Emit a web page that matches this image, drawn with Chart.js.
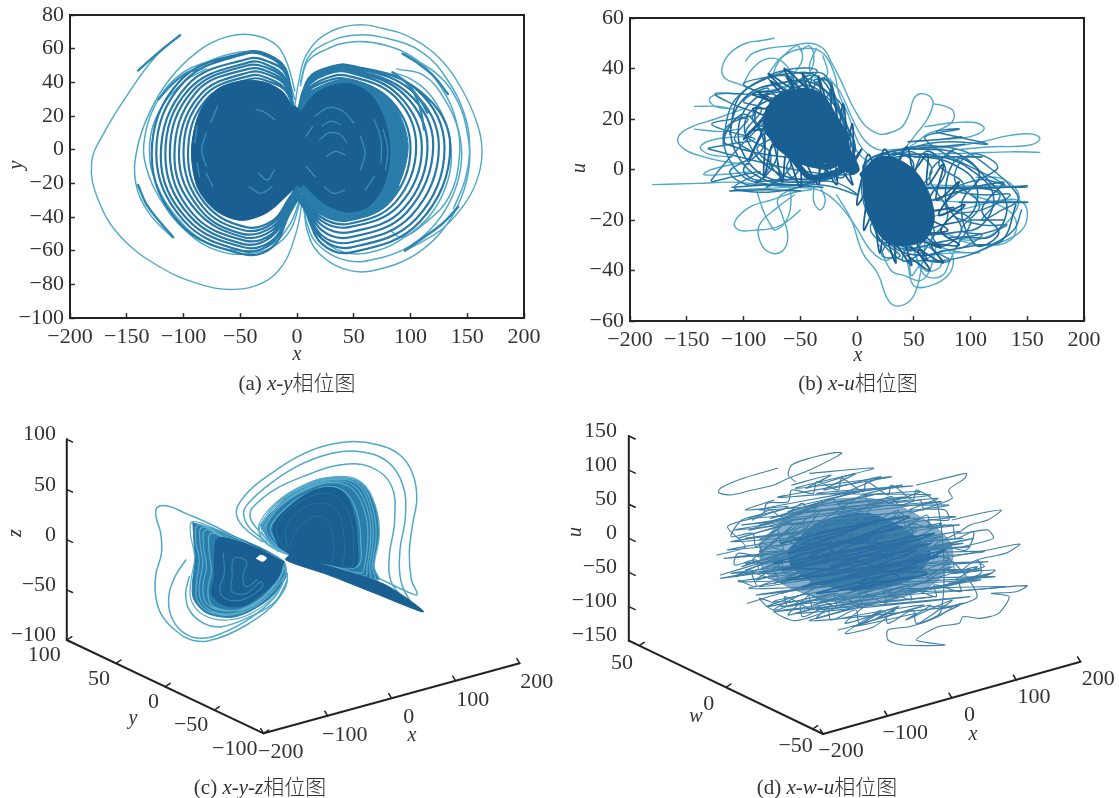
<!DOCTYPE html>
<html lang="zh">
<head>
<meta charset="UTF-8">
<title>相位图</title>
<script src="https://cdn.jsdelivr.net/npm/chart.js"></script>
<style>
  body { margin: 0; background: #fff; width: 1119px; height: 798px; position: relative; overflow: hidden; }
  canvas { position: absolute; filter: blur(0.4px); }
  .t { position: absolute; transform: translate(-50%, -50%); color: #333; white-space: nowrap;
       font-family: "Liberation Serif", "Noto Sans CJK SC", serif; }
  .cap { font-size: 21px; }
  .cap span { font-family: "Noto Sans CJK SC"; font-weight: 300; }
  .ax { font-size: 20px; font-style: italic; }
  .rot { transform: translate(-50%, -50%) rotate(-90deg); }
</style>
</head>
<body>
<canvas id="chartA" style="left:0;top:0"></canvas>
<canvas id="chartB" style="left:560px;top:0"></canvas>
<canvas id="chartC" style="left:0;top:410px"></canvas>
<canvas id="chartD" style="left:560px;top:410px"></canvas>

<div class="t ax" style="left:297px;top:353px">x</div>
<div class="t ax rot" style="left:15px;top:165px">y</div>
<div class="t ax" style="left:858px;top:354px">x</div>
<div class="t ax rot" style="left:578px;top:168px">u</div>
<div class="t ax rot" style="left:14px;top:533px">z</div>
<div class="t ax rot" style="left:574px;top:532px">u</div>
<div class="t ax" style="left:133px;top:717px">y</div>
<div class="t ax" style="left:412px;top:734px">x</div>
<div class="t ax" style="left:696px;top:715px">w</div>
<div class="t ax" style="left:973px;top:733px">x</div>
<div class="t cap" style="left:297px;top:381px">(a) <i>x-y</i><span>相位图</span></div>
<div class="t cap" style="left:858px;top:381px">(b) <i>x-u</i><span>相位图</span></div>
<div class="t cap" style="left:260px;top:785px">(c) <i>x-y-z</i><span>相位图</span></div>
<div class="t cap" style="left:827px;top:785px">(d) <i>x-w-u</i><span>相位图</span></div>

<script>
// tick labels
const xTicks = [-200, -150, -100, -50, 0, 50, 100, 150, 200];
const yTicksA = [-100, -80, -60, -40, -20, 0, 20, 40, 60, 80];
const uTicksB = [-60, -40, -20, 0, 20, 40, 60];
const xTicks3d = [-200, -100, 0, 100, 200];
const yTicksC = [100, 50, 0, -50, -100];
const zTicksC = [100, 50, 0, -50, -100];
const wTicksD = [50, 0, -50];
const uTicksD = [150, 100, 50, 0, -50, -100, -150];

// (a) x-y in axis units
const xyOuterLeft = [[-103,68],[-125,55],[-150,32],[-170,10],[-181,-8],[-175,-30],[-155,-52],[-120,-70],[-85,-80],[-56,-83],[-30,-79],[-12,-68],[-2,-52],[3,-38],[5,-25]];
const xyOuterRight = [[-2,26],[2,42],[8,56],[24,68],[50,74],[76,72],[102,66],[126,54],[146,35],[159,15],[163,0],[160,-15],[150,-30],[130,-46],[112,-54],[95,-60]];
const xyOuterRings = [
  [[3,40],[10,55],[25,63],[50,68],[80,66],[110,58],[132,42],[148,20],[152,0],[148,-18],[138,-35]],
  [[3,38],[9,52],[24,59],[48,64],[78,62],[106,53],[128,36],[141,15],[143,-5],[134,-28],[112,-44],[92,-52],[82,-48]],
  [[6,-30],[9,-48],[20,-62],[48,-72],[78,-70],[105,-62],[128,-48],[145,-28],[152,-8],[150,10],[142,28],[125,44],[95,57]],
  [[5,-30],[8,-42],[18,-56],[45,-66],[75,-64],[100,-57],[122,-44],[138,-26],[145,-6],[142,12],[130,30],[112,44],[88,48]],
  [[5,-28],[8,-38],[17,-50],[42,-61],[70,-60],[95,-52],[116,-40],[130,-24],[136,-6],[132,14],[118,32],[100,42],[84,46]],
  [[-2,35],[-8,50],[-18,62],[-38,68],[-62,67],[-88,58],[-112,42],[-130,22],[-141,0],[-142,-20],[-130,-38],[-110,-52]],
  [[3,-30],[-6,-48],[-22,-58],[-45,-62],[-70,-60],[-95,-50],[-118,-32],[-133,-10],[-134,8],[-122,30],[-102,45],[-80,52],[-50,58],[-24,56],[-8,42],[-2,30]],
  [[3,-28],[-6,-44],[-24,-57],[-50,-60],[-80,-55],[-106,-40],[-124,-20],[-130,0],[-122,22],[-100,40],[-80,48]]
];
const xyLeftMid = [[-4,28],[-10,48],[-24,56],[-44,58],[-103,41],[-128,-3],[-103,-44],[-48,-62],[-22,-58],[-8,-40],[3,-22],
  [-4,29],[-11,47],[-25,55],[-45,57],[-100,40],[-124,-2],[-100,-42],[-49,-60],[-23,-56],[-8,-39],[3,-23],
  [-4,27],[-10,45],[-24,52],[-43,54],[-97,38],[-120,-4],[-97,-41],[-47,-58],[-22,-54],[-8,-38],[3,-21],
  [-4,28],[-11,43],[-25,50],[-42,52],[-95,36],[-116,-3],[-95,-39],[-48,-56],[-23,-52],[-8,-36],[3,-22],
  [-4,26],[-10,41],[-24,48],[-44,50],[-92,35],[-112,-2],[-92,-38],[-46,-54],[-22,-50],[-8,-35],[3,-20],
  [-4,27],[-11,40],[-24,46],[-43,48],[-89,34],[-108,-4],[-89,-36],[-47,-52],[-22,-48],[-8,-34],[3,-21],
  [-4,25],[-10,38],[-23,44],[-42,46],[-86,32],[-104,-3],[-86,-35],[-48,-50],[-22,-46],[-8,-33],[3,-20],
  [-4,26],[-10,36],[-24,42],[-41,44],[-83,31],[-100,-2],[-83,-34],[-46,-48],[-22,-44],[-8,-31],[3,-19],
  [-4,24],[-10,35],[-23,40],[-41,42],[-81,29],[-96,-3],[-81,-32],[-45,-46],[-21,-42],[-8,-30],[3,-18]];
const xyRightMid = [[2,26],[10,42],[24,48],[46,50],[108,35],[135,2],[108,-43],[48,-61],[22,-56],[8,-37],[-3,-22],
  [2,25],[10,41],[25,48],[47,50],[105,36],[130,1],[105,-41],[48,-58],[22,-53],[8,-35],[-3,-21],
  [2,26],[10,40],[24,47],[46,49],[101,35],[125,2],[101,-39],[48,-55],[22,-51],[8,-33],[-3,-22],
  [2,24],[9,39],[24,46],[45,48],[97,34],[120,3],[97,-37],[47,-52],[22,-48],[8,-31],[-3,-20],
  [2,25],[10,38],[24,45],[46,47],[94,33],[115,2],[94,-35],[47,-49],[22,-45],[8,-30],[-3,-21],
  [2,24],[9,37],[23,44],[45,46],[90,32],[110,1],[90,-33],[46,-46],[21,-42],[8,-28],[-3,-19],
  [2,25],[10,36],[24,42],[44,44],[87,31],[105,2],[87,-31],[46,-44],[21,-40],[8,-27],[-3,-20],
  [2,23],[9,34],[23,40],[44,42],[83,29],[100,1],[83,-30],[45,-42],[21,-38],[8,-26],[-3,-18],
  [2,24],[10,33],[23,38],[43,40],[80,28],[95,2],[80,-28],[44,-40],[20,-36],[7,-24],[-3,-19],
  [2,22],[9,31],[22,36],[43,38],[77,26],[90,0],[77,-27],[44,-38],[20,-34],[7,-22],[-3,-17]];
const xyLeftBlob = [[-3,24],[-12,34],[-28,40],[-48,41],[-70,36],[-86,22],[-93,0],[-88,-22],[-72,-36],[-50,-42],[-28,-38],[-10,-28],[2,-18],[-2,2]];
const xyRightBlob = [[3,22],[14,32],[30,38],[48,39],[66,32],[78,16],[82,-2],[76,-22],[62,-34],[44,-37],[24,-32],[8,-22],[-2,-14],[2,4]];
const xyRightHaze = [[3,24],[16,36],[46,42],[82,30],[98,2],[82,-30],[46,-42],[20,-38],[-2,-16]];
const xyBridge = [[-10,14],[-2,26],[8,14],[10,-8],[4,-22],[-8,-14]];
const xyFlecks = [
  [[22,14],[30,17],[38,15]], [[20,6],[28,10],[38,9],[44,4]], [[26,-4],[34,-1],[42,-3]], [[24,-22],[32,-26],[42,-24]],
  [[16,20],[28,25],[40,23],[50,16]], [[56,8],[60,-2],[56,-12]], [[68,18],[74,6],[74,-8]], [[60,-24],[68,-16]],
  [[-36,24],[-28,22],[-20,18]], [[-34,-14],[-26,-18],[-20,-12]], [[-42,-22],[-32,-26],[-22,-22]],
  [[-80,10],[-84,0],[-80,-10]], [[-70,26],[-76,16]], [[-74,-22],[-80,-14]], [[8,8],[14,14]], [[8,-10],[16,-16]],
  [[76,12],[80,0],[78,-12]], [[-88,14],[-90,4]], [[-88,-8],[-86,-16]]
];
const xyStreaks = [
  [[93,57],[105,52],[120,44],[133,33]],
  [[84,46],[96,40],[108,30],[115,22]],
  [[95,-60],[112,-52],[128,-44],[142,-34]],
  [[-109,-52],[-122,-42],[-133,-32],[-140,-21]],
  [[-103,68],[-118,60],[-130,53],[-140,47]],
  [[-122,30],[-110,39],[-96,46],[-84,48]],
  [[70,-36],[82,-30],[90,-22]],
  [[100,38],[108,26],[112,12]]
];

// (b) x-u
const xuLoops = [
  [[-73,52],[-85,51],[-98,50],[-112,46],[-119,40],[-116,36],[-105,34],[-86,31],[-62,33],[-44,36],[-30,32],[-18,24],[-8,14],[2,6],[14,2]],
  [[-98,43],[-92,46],[-78,48],[-58,49],[-42,50],[-30,48],[-22,42],[-14,35],[-6,27],[0,22],[8,17],[20,14],[32,15],[40,17],[46,22],[50,28],[56,30],[64,29],[67,26],[62,20],[52,14],[42,8],[36,4]],
  [[68,26],[78,25],[85,23],[84,19],[74,16],[62,14],[50,10],[34,6],[18,3]],
  [[-75,36],[-70,42],[-60,47],[-52,49],[-48,44],[-55,38],[-60,34],[-68,30]],
  [[-50,47],[-42,49],[-38,44],[-42,38],[-50,35],[-56,33]],
  [[-78,38],[-65,45],[-45,48],[-30,46],[-20,38],[-16,30],[-8,22],[2,10],[14,4]],
  [[-40,-8],[-55,-9],[-75,-12],[-95,-15],[-108,-21],[-104,-24],[-90,-24],[-72,-23],[-60,-20],[-50,-16]],
  [[-55,-10],[-70,-15],[-86,-22],[-85,-29],[-76,-33],[-65,-32],[-61,-26],[-66,-18],[-70,-12],[-60,-8]],
  [[-88,-9],[-82,-17],[-76,-22],[-72,-24],[-62,-20],[-58,-12],[-60,-6]],
  [[-38,-7],[-38,-13],[-32,-16],[-28,-12],[-32,-7]],
  [[-180,-6],[-140,-5.5],[-110,-5],[-85,-6],[-60,-7],[-35,-8],[-18,-13],[-2,-22],[12,-32],[25,-36],[35,-33]],
  [[-18,-10],[-5,-20],[5,-33],[18,-41],[28,-52],[38,-54],[50,-50],[57,-38],[60,-25],[55,-15]],
  [[40,-30],[45,-38],[50,-46],[65,-46],[80,-42],[85,-36],[80,-32],[70,-33],[55,-38],[48,-42],[46,-34]],
  [[50,-32],[60,-42],[75,-42],[82,-36],[88,-30]],
  [[30,-20],[70,-30],[100,-33],[120,-30],[143,-25],[150,-19],[146,-13],[130,-12],[100,-15],[72,-18],[60,-20]],
  [[60,-12],[100,-13],[130,-12.5],[151,-13]],
  [[55,-6],[100,-6.5],[125,-6.5],[150,-7]],
  [[60,-34],[85,-33],[108,-33]],
  [[50,8],[84,9],[110,11],[135,13.5],[155,14],[161,12],[150,9.5],[120,9],[92,8]],
  [[55,6],[100,6.5],[135,7],[161,6.8]],
  [[60,17],[85,18.5],[105,18.5],[112,16],[100,13],[80,12]],
  [[-143,25],[-122,25],[-110,24]],
  [[-143,16],[-120,15],[-105,16]],
  [[-100,24],[-125,20],[-150,16],[-158,12],[-152,8],[-135,5],[-115,3],[-95,2]],
  [[-100,30],[-120,30],[-130,28],[-125,25],[-110,24]],
  [[-95,-1],[-120,-2],[-135,-2],[-128,0],[-100,3]],
  [[-108,-8],[-80,-7.5],[-60,-7]],
  [[-100,13],[-125,12],[-138,9],[-130,6],[-110,5]],
  [[-100,34],[-92,40],[-78,44],[-64,42],[-58,36],[-66,34],[-80,33]],
  [[-30,45],[-26,38],[-34,36],[-42,40],[-36,48]],
  [[-24,36],[-14,30],[-4,20],[6,12],[18,8],[36,8]],
  [[40,-22],[48,-30],[60,-40],[74,-38],[68,-32],[54,-30]],
  [[20,-30],[30,-40],[42,-42],[56,-44],[64,-40],[70,-30]],
  [[100,-10],[125,-14],[140,-20],[135,-28],[110,-30],[90,-28]],
  [[75,-25],[100,-28],[125,-24],[143,-12],[130,-4],[105,-3]]
];
const xuFlats = [
  [[-110,-7],[-70,-6],[-30,-7]], [[-112,-8.5],[-80,-8],[-50,-8.5]], [[-90,-5],[-60,-4],[-30,-4]],
  [[40,8],[70,9],[95,10]], [[45,11],[75,12],[92,13]], [[50,5],[80,5],[110,5]],
  [[60,-7],[100,-7],[148,-7]], [[60,-7.5],[110,-7.5],[150,-6.5]], [[90,-13],[150,-13]], [[100,-20],[130,-20]]
];
const xuLeftMid = [[-112,14],[-105,28],[-85,35],[-60,38],[-35,37],[-18,26],[-6,12],[-12,2],[-30,-4],[-60,-6],[-90,-2],[-108,8],[-110,20],[-95,30],[-70,34],[-45,35],[-25,30],[-10,16],[-4,4],[-20,-3],[-50,-5],[-80,-3],[-100,6],[-104,18],[-90,28],[-65,31],[-40,33],[-22,24],[-8,10],[-18,0],[-45,-4],[-75,0],[-95,10],[-98,20],[-80,27],[-55,30],[-32,30],[-15,22],[-5,6],
  [-115,10],[-100,22],[-82,10],[-100,0],[-85,-4],[-70,8],[-90,20],[-75,30],[-60,18],[-78,5],[-60,-4],[-45,10],[-65,25],[-50,35],[-38,20],[-55,5],[-35,-5],[-25,10],[-42,28],[-28,36],[-18,20],[-32,3],[-12,-3],[-8,12],[-20,28]];
const xuLeftMid2 = [[-118,10],[-112,24],[-100,31],[-82,36],[-66,39],[-48,38],[-30,38],[-20,30],[-12,20],[-2,10],[-8,2],[-26,-2],[-48,-6],[-72,-6],[-96,-4],[-110,2],[-118,12],[-112,18],[-96,20],[-108,12],[-92,6],[-112,-1],[-90,-6],[-76,6],[-98,14],[-84,24],[-100,27],[-78,32],[-92,20],[-72,14],[-88,8],[-66,-2],[-80,-7],[-58,2],[-74,18],[-60,30],[-78,36],[-56,36],[-66,24],[-48,12],[-62,0],[-40,-6],[-32,6],[-50,20],[-40,37],[-56,33],[-34,30],[-44,14],[-26,2],[-18,-4],[-14,12],[-30,24],[-22,34],[-38,35],[-12,24],[-24,12],[-6,-2],
  [-130,8],[-112,10],[-90,12],[-112,15],[-128,18],[-110,20],[-90,22],[-110,26],[-125,30],[-105,30],[-85,30],[-100,34],[-75,37],[-55,40],[-35,39],[-50,33],
  [-128,-4],[-110,-3],[-85,-1],[-108,-7],[-85,-9],[-60,-8],[-40,-6],[-20,-7],[0,-10],[-20,-5],[-50,-5]];
const xuLeftFringe = [[-95,15],[-70,18],[-92,24],[-66,24],[-86,30],[-60,26],[-76,35],[-52,28],[-62,37],[-42,29],[-48,38],[-32,28],[-34,37],[-24,24],[-22,33],[-16,18],[-12,26],[-8,12],[-4,18],[-2,5],[4,8],[-6,-1],[-4,-6],[-18,2],[-18,-6],[-32,3],[-34,-6],[-48,4],[-50,-7],[-62,6],[-66,-5],[-74,10],[-82,-3],[-82,14],[-95,4],[-80,20],[-100,12],[-76,26],[-92,30],[-68,32],[-78,38],[-56,32],[-64,40],[-44,32]];
const xuRightMid = [[140,-14],[128,-28],[105,-30],[80,-32],[55,-34],[30,-30],[10,-16],[8,2],[30,7],[60,8],[90,6],[115,-4],[132,-14],[120,-26],[95,-27],[70,-29],[45,-31],[22,-24],[6,-10],[15,4],[45,6],[75,5],[100,0],[120,-10],[110,-22],[85,-25],[60,-26],[35,-28],[15,-18],[8,-4],[28,4],[58,5],[85,2],[105,-6],[100,-18],[75,-22],[50,-24],[25,-20],
  [128,-5],[110,-16],[125,-25],[105,-30],[92,-14],[108,-2],[88,4],[78,-12],[92,-24],[72,-30],[62,-14],[78,0],[60,7],[50,-8],[62,-24],[45,-32],[35,-16],[50,2],[30,6],[25,-10],[38,-26],[20,-28],[12,-10]];
const xuRightMid2 = [[145,-16],[138,-24],[118,-30],[98,-34],[76,-36],[58,-36],[40,-36],[24,-30],[14,-22],[4,-8],[12,2],[30,5],[52,9],[76,9],[96,7],[116,1],[134,-6],[142,-12],[128,-16],[110,-20],[126,-10],[104,-6],[124,1],[100,6],[86,-4],[108,-14],[92,-24],[110,-26],[88,-31],[100,-20],[78,-14],[94,-6],[72,2],[86,8],[64,-2],[80,-18],[64,-30],[82,-36],[58,-35],[68,-24],[50,-12],[66,0],[44,7],[36,-4],[52,-20],[40,-36],[58,-32],[34,-30],[44,-14],[26,-2],[18,4],[14,-12],[30,-24],[22,-34],[38,-34],[12,-24],[24,-12],[6,2],
  [60,10],[85,11],[115,10],[88,13],[70,15],[90,16],[60,12],
  [130,-6],[110,-4],[85,-8],[110,-10],[135,-10],[110,-16],[85,-18],[110,-22],[132,-22],[105,-26],[80,-27]];
const xuRightFringe = [[85,-15],[60,-18],[80,-24],[60,-26],[74,-31],[52,-28],[62,-36],[44,-30],[48,-38],[34,-30],[34,-37],[24,-26],[20,-33],[14,-18],[6,-24],[8,-10],[0,-14],[4,-4],[10,6],[18,-2],[24,8],[34,2],[44,9],[50,0],[62,6],[62,-6],[76,2],[70,-12],[90,-5],[72,-18],[95,-14],[74,-24],[90,-30],[66,-30],[76,-37],[54,-32],[64,-40],[44,-34]];
const xuLeftCore = [[-78,24],[-60,30],[-40,28],[-25,22],[-10,12],[-20,2],[-40,2],[-60,6],[-75,14],[-62,24],[-42,24],[-28,16],[-38,8],[-55,10],[-65,18],[-50,20],[-34,13],[-20,6],[-8,2],[-25,-2],[-45,-2],[-70,20],[-50,28],[-35,26],[-20,20],[-12,12],[-25,8],[-45,6],[-65,10],[-78,18]];
const xuRightCore = [[5,-2],[20,4],[40,2],[55,-6],[55,-18],[45,-26],[30,-28],[15,-20],[10,-10],[25,-6],[42,-8],[48,-16],[38,-22],[24,-18],[18,-12],[30,-12],[45,-4],[58,-12],[52,-24],[36,-27]];
const xuLeftBlob = [[-82,22],[-72,29],[-52,32],[-35,31],[-24,26],[-14,16],[-6,8],[2,0],[-4,-2],[-20,2],[-40,3],[-58,6],[-72,10],[-82,16]];
const xuRightBlob = [[6,-2],[22,4],[40,3],[54,-2],[64,-10],[68,-20],[60,-28],[45,-30],[32,-30],[20,-26],[12,-18],[6,-10]];

// (c) x-y-z, traced in the flat view of the box
const cOuter = [
  [[790,455],[700,405],[600,348],[520,310],[470,288],[440,292],[437,320],[450,370],[452,430],[437,490],[435,550],[450,610],[490,660],[545,692],[610,685],[690,645],[760,590],[800,530],[805,490]],
  [[800,500],[770,560],[700,625],[620,670],[560,685],[510,665],[478,615],[473,555],[490,500],[520,450]],
  [[805,510],[770,575],[700,620],[620,650],[570,640],[530,600],[520,550],[530,500]],
  [[735,395],[690,360],[665,325],[665,290],[700,240],[760,190],[830,142],[900,110],[980,95],[1060,105],[1120,135],[1155,190],[1167,265],[1155,345],[1146,430],[1152,510],[1168,553],[1140,545],[1060,505],[950,460],[830,440]],
  [[745,395],[700,355],[683,320],[688,290],[740,235],[830,170],[930,130],[1010,125],[1085,155],[1128,225],[1135,320],[1120,420],[1122,510],[1150,575],[1185,605],[1100,565],[980,505],[860,455]],
  [[750,390],[715,350],[700,320],[708,292],[770,238],[860,195],[950,165],[1035,170],[1095,225],[1105,330],[1090,440],[1095,515],[1130,570],[1060,530],[950,480],[840,448]]
];
const cRightMid = [[780,425],[735,385],[725,345],[770,280],[850,225],[940,200],[1010,215],[1050,285],[1062,375],[1048,470],[1060,510],[960,480],[830,440],
  [778,422],[730,383],[730,345],[775,280],[855,226],[938,204],[1005,218],[1042,288],[1053,378],[1042,470],[1048,508],[945,475],[830,440],
  [780,420],[740,380],[735,345],[780,280],[860,228],[935,208],[1000,222],[1035,290],[1045,380],[1035,470],[1035,505],[930,470],[830,440],
  [785,420],[745,378],[742,342],[788,280],[862,232],[932,213],[992,228],[1028,295],[1038,382],[1028,470],[1022,498],[925,468],[828,440],
  [785,415],[750,375],[748,340],[795,280],[865,235],[930,218],[985,235],[1020,300],[1030,385],[1020,470],[1010,490],[920,465],[825,440],
  [790,410],[760,372],[762,340],[810,285],[870,245],[925,230],[970,250],[1000,310],[1010,390],[1000,470],[905,460],[825,440]];
const cRightTexture = [[800,420],[775,370],[790,320],[850,270],[915,250],[960,280],[985,340],[990,420],[985,470],
  [960,465],[965,430],[960,360],[940,300],[890,280],[830,310],[800,360],[810,415],
  [825,370],[860,330],[900,320],[925,350],[935,420],[930,455]];
const cRightBlob = [[780,410],[765,350],[810,290],[870,245],[925,232],[965,250],[990,310],[1000,390],[995,470],[905,460],[825,440]];
const cRightHaze = [[728,345],[800,265],[880,212],[950,202],[1010,218],[1050,285],[1060,375],[1046,470],[1058,508],[960,480],[830,440],[770,415]];
const cWedgeBlob = [[810,435],[950,478],[1080,525],[1185,605],[1050,550],[920,495],[800,450]];
const cLeftMid = [[790,455],[700,405],[620,365],[540,335],[533,370],[545,440],[535,510],[535,570],[570,615],[640,630],[720,600],[780,540],[800,480],
  [790,450],[700,410],[620,372],[555,345],[548,390],[558,450],[550,520],[552,570],[585,605],[650,615],[720,585],[775,530],[797,475],
  [700,415],[625,380],[565,352],[560,400],[568,460],[558,525],[563,572],[597,605],[655,610],[722,578],[772,525],[795,472],
  [780,445],[700,415],[630,385],[575,360],[570,410],[578,470],[568,530],[575,575],[610,600],[665,600],[725,570],[770,520],[790,470],
  [700,420],[640,392],[590,370],[585,420],[592,480],[582,540],[592,585],[630,600],[680,598],[735,565],[778,515],[795,470]];
const cLeftTexture = [[625,430],[628,490],[615,540],[640,570],[690,565],[735,530],
  [730,515],[690,550],[650,545],[650,500],[655,445],[690,455],[680,500],[690,530],[720,510]];
const cLeftBlob = [[795,455],[730,420],[670,395],[610,385],[600,440],[600,500],[592,550],[625,585],[680,588],[730,555],[775,510]];
const cLeftHaze = [[540,338],[640,372],[790,450],[800,500],[750,570],[660,620],[580,610],[540,560],[545,450]];
const cHole = [[718,445],[730,436],[746,444],[735,454]];

// (d) x-w-u, traced in the flat view of the box
const dEdges = [
  [[610,175],[560,190],[500,210],[450,235],[445,248],[480,255],[540,240],[600,225],[640,205],[700,180],[790,130],[770,128],[700,145],[650,165],[640,195],[660,215]],
  [[1000,225],[1060,210],[1140,190],[1135,205],[1090,240],[1100,265],[1040,290],[980,310]],
  [[1100,330],[1180,310],[1238,300],[1200,330],[1150,345],[1120,370],[1200,360],[1215,385],[1130,410]],
  [[1100,440],[1200,420],[1290,402],[1250,430],[1170,450],[1190,470],[1100,490],[1220,480],[1190,500],[1090,520]],
  [[1000,545],[1150,540],[1310,527],[1280,545],[1210,550],[1260,560],[1230,610],[1180,625],[1130,620],[1120,640],[1060,650],[1000,690],[1080,705],[960,705],[920,690],[920,660],[980,650],[1060,620],[1100,590],[1040,590]],
  [[780,660],[850,640],[900,620],[940,600],[880,650],[800,670],[900,600],[850,640]],
  [[440,435],[520,410],[470,350],[560,320],[640,290],[520,300],[600,270]],
  [[450,495],[560,460],[660,430],[520,480]],
  [[525,580],[620,550],[720,530],[600,600],[660,632],[760,600],[840,570]]
];
const dScribble = [[700,190],[880,175],[660,235],[930,200],[610,262],[990,228],[720,250],[1040,255],[560,300],[860,240],
  [530,325],[980,270],[650,310],[1070,275],[510,345],[900,290],[490,360],[1020,300],[620,345],[1110,320],
  [520,385],[960,325],[480,395],[1080,345],[700,375],[1120,345],[470,420],[880,350],[560,425],[1130,385],
  [460,445],[1000,385],[520,460],[1150,410],[640,440],[1190,425],[480,490],[1060,415],[450,505],[930,420],
  [560,490],[1200,455],[600,480],[1180,480],[500,515],[1050,445],[530,535],[1220,500],[700,510],[1120,480],
  [550,555],[1000,490],[600,575],[1250,530],[780,540],[1180,510],[620,590],[1080,530],[660,610],[1150,560],
  [720,600],[1050,560],[600,605],[950,560],[700,632],[1100,590],[790,625],[1020,585],[820,650],[1000,610]];
const dWalk = [[650,225],[760,195],[690,235],[830,190],[740,240],[900,200],[800,250],[960,225],[850,255],[1010,245],
  [920,280],[1060,265],[980,300],[1090,285],[860,285],[980,260],[780,280],[900,250],[700,290],[830,245],[640,305],[770,265],[590,325],[720,290],[560,345],[680,310],[530,360],[650,335],
  [500,385],[620,350],[560,390],[700,345],[640,385],[780,325],[700,385],[860,310],[780,375],[940,320],[860,365],[1010,325],[930,370],[1070,340],[1000,385],[1120,365],
  [1050,405],[1160,385],[1010,420],[1130,400],[950,415],[1070,380],[880,410],[1000,365],[800,420],[930,385],[720,430],[860,375],[650,430],[790,395],[580,445],[720,400],[510,470],[650,420],
  [490,500],[620,460],[550,510],[700,465],[620,520],[780,460],[700,525],[860,470],[780,525],[940,480],[870,520],[1020,480],[950,520],[1100,470],[1030,510],[1170,470],
  [1110,510],[1210,490],[1060,535],[1170,505],[990,545],[1110,520],[920,555],[1040,510],[850,565],[980,525],[780,575],[910,530],[710,585],[840,540],[640,590],[770,550],[580,590],[700,550],
  [640,615],[760,580],[720,625],[860,580],[800,640],[950,590],[890,625],[1040,585],[970,630],[1100,570],[1010,640],[1130,580],[1060,600],[1170,560],
  [1080,440],[940,470],[1050,390],[900,440],[1000,340],[870,400],[950,300],[820,370],[880,280],[760,350],[800,290],[690,360],[730,300],[620,380],[660,340],[570,420],[610,390],[540,450],[580,460],[700,420],[650,480],[790,430],[720,490],[870,440],[800,500],[950,440],[880,490],[1030,430],[960,500],[1090,450],[700,520],[840,480],[620,550],[760,500],[560,530],[690,480],[600,520],[740,470],[820,410],[700,460],[860,350],[740,410],[920,340],[800,390],[980,360],[840,430],[1020,410],[880,470]];
const dWiggle = [[540,330],[590,300],[620,320],[680,280],[700,305],[760,265],[790,290],[850,255],[870,280],[930,260],[950,285],[1010,270],[1020,295],[1080,300],
  [1090,330],[1030,330],[1045,355],[980,340],[990,370],[920,345],[930,380],[860,350],[870,385],[800,360],[810,395],[740,365],[745,400],[680,375],[690,410],[620,390],[625,420],[560,400],[570,440],[500,430],
  [490,465],[550,450],[560,480],[620,450],[630,490],[700,455],[710,495],[780,465],[790,505],[860,470],[870,510],[940,470],[950,505],[1020,465],[1030,500],[1100,455],[1110,490],[1170,450],
  [1180,490],[1120,515],[1125,545],[1050,525],[1055,560],[980,535],[985,570],[910,540],[915,580],[840,545],[845,585],[770,550],[775,590],[700,555],[705,595],[630,560],[635,590],[560,565],
  [600,600],[670,580],[680,620],[750,590],[760,630],[830,600],[840,640],[910,605],[920,640],[990,600],[1000,640],[1070,600],
  [1060,290],[1000,240],[990,270],[930,225],[920,255],[860,215],[850,245],[790,205],[780,240],[720,215],[710,250],[650,240],[640,275],[580,280],[570,310],[510,330],
  [480,380],[540,370],[550,410],[610,360],[620,400],[680,345],[690,385],[750,335],[760,375],[820,325],[830,365],[890,320],[900,360],[960,310],[970,350],[1030,315],[1040,355],[1100,345],[1110,385],[1160,365],
  [1140,420],[1080,410],[1090,445],[1020,425],[1030,455],[960,425],[970,460],[900,415],[910,450],[840,410],[850,450],[780,415],[790,450],[720,425],[730,460],[660,445],[670,480],[600,470],[610,510],[540,490],[550,530],[500,510]];
const dCore = [[620,400],[900,330],[640,430],[960,350],[600,460],[1000,390],[620,480],[1040,400],[640,510],[1060,440],[680,530],[1000,470],[720,550],[1030,490],[650,470],[900,400],[680,400],[880,340],[720,370],[980,320],[700,440],[1050,370],[760,470],[1000,420],[780,510],[1080,420],[820,540],[950,500],[760,420],[870,380],[740,450],[940,430],[800,480],[960,460],[720,500],[900,470],[840,520],[990,500]];
const dBlobOuter = [[560,400],[640,320],[760,270],[900,270],[1010,320],[1090,390],[1100,450],[1050,520],[930,570],[790,580],[660,540],[570,480]];
const dBlobInner = [[640,420],[720,340],[860,310],[970,360],[1040,430],[980,510],[850,540],[720,520],[650,470]];

const light = '#4fa9c9', mid = '#2f86ae', dark = '#1a5f92', dBlue = '#3f80a8', haze = '#2a7dab';
const serif = '"Liberation Serif", serif';

function line(pts, color, width, tension) {
    return {
        data: pts.map(p => ({ x: p[0], y: p[1] })),
        showLine: true, borderColor: color, borderWidth: width, pointRadius: 0,
        tension: tension === undefined ? 0.4 : tension,
        borderCapStyle: 'round', borderJoinStyle: 'round'
    };
}

// closed outline filled through the line's own shape, for the solid dense cores
function blob(pts, color) {
    const set = line(pts.concat([pts[0]]), color, 1, 0.3);
    set.fill = 'shape';
    set.backgroundColor = color;
    return set;
}

const minusSign = v => String(v).replace('-', '\u2212');

const framePlugin = {
    id: 'frame',
    afterDraw(chart) {
        const a = chart.chartArea, ctx = chart.ctx;
        ctx.save();
        ctx.strokeStyle = '#222';
        ctx.lineWidth = 2;
        ctx.strokeRect(a.left, a.top, a.right - a.left, a.bottom - a.top);
        ctx.restore();
    }
};

function axisOpts(ticks, min, max, size, isX) {
    return {
        type: 'linear', min: min, max: max,
        afterBuildTicks: s => { s.ticks = ticks.map(v => ({ value: v })); },
        afterFit: s => {
            if (isX) s.height = size; else s.width = size;
            s.paddingTop = s.paddingBottom = s.paddingLeft = s.paddingRight = 0;
        },
        border: { display: false },
        grid: { drawOnChartArea: false, tickLength: -5, tickColor: '#333', tickWidth: 1.5 },
        ticks: {
            autoSkip: false, maxRotation: 0, minRotation: 0, color: '#333',
            padding: 11, font: { family: serif, size: 22 },
            callback: minusSign
        }
    };
}

function planeChart(id, w, datasets, xMin, xMax, ticksX, yMin, yMax, ticksY, pad, yw, xh) {
    const el = document.getElementById(id);
    el.width = w; el.height = 400;
    return new Chart(el, {
        type: 'scatter',
        data: { datasets: datasets },
        options: {
            responsive: false, animation: false, events: [],
            layout: { padding: pad },
            plugins: { legend: { display: false }, tooltip: { enabled: false } },
            scales: {
                x: axisOpts(ticksX, xMin, xMax, xh, true),
                y: axisOpts(ticksY, yMin, yMax, yw, false)
            }
        },
        plugins: [framePlugin]
    });
}

// flat view of a 3d box: axes run between two view points, ticks share out evenly by value
function boxAxis(ends, lo, hi, ticks, tickDir, labelOff, align) {
    const at = v => {
        const f = (v - lo) / (hi - lo);
        return [ends[0][0] + f * (ends[1][0] - ends[0][0]), ends[0][1] + f * (ends[1][1] - ends[0][1])];
    };
    return {
        sets: [line(ends, '#222', 2, 0)].concat(ticks.map(v => {
            const p = at(v);
            return line([p, [p[0] + tickDir[0], p[1] + tickDir[1]]], '#222', 1.5, 0);
        })),
        labels: ticks.map(v => {
            const p = at(v);
            return { x: p[0] + labelOff[0], y: p[1] + labelOff[1], text: minusSign(v), align: align };
        })
    };
}

function boxChart(id, w, axes, datasets) {
    const el = document.getElementById(id);
    el.width = w; el.height = 388;
    const labels = axes.flatMap(a => a.labels);
    return new Chart(el, {
        type: 'scatter',
        data: { datasets: axes.flatMap(a => a.sets).concat(datasets) },
        options: {
            responsive: false, animation: false, events: [],
            layout: { padding: 0 },
            plugins: { legend: { display: false }, tooltip: { enabled: false } },
            scales: {
                x: { type: 'linear', min: 0, max: 1568, display: false },
                y: { type: 'linear', min: 0, max: 1164, reverse: true, display: false }
            }
        },
        plugins: [{
            id: 'boxLabels',
            afterDraw(chart) {
                const ctx = chart.ctx;
                ctx.save();
                ctx.fillStyle = '#333';
                ctx.font = '22px ' + serif;
                ctx.textBaseline = 'middle';
                labels.forEach(l => {
                    ctx.textAlign = l.align;
                    ctx.fillText(l.text, chart.scales.x.getPixelForValue(l.x), chart.scales.y.getPixelForValue(l.y));
                });
                ctx.restore();
            }
        }]
    });
}

// earlier entries are painted last, so the list runs from top layer to bottom layer
planeChart('chartA', 560,
    xyFlecks.map(s => line(s, '#3c8db6', 1.3))
        .concat([blob(xyBridge, dark), blob(xyLeftBlob, dark), blob(xyRightBlob, dark), blob(xyRightHaze, haze)])
        .concat(xyStreaks.map(s => line(s, mid, 2.4)))
        .concat([line(xyLeftMid, '#2678a6', 2.2), line(xyRightMid, '#2678a6', 2.2)])
        .concat(xyOuterRings.map(s => line(s, light, 1.5)))
        .concat([line(xyOuterLeft, light, 1.4), line(xyOuterRight, light, 1.4)]),
    -200, 200, xTicks, -100, 80, yTicksA, { top: 15, right: 36 }, 70, 82);

planeChart('chartB', 559,
    [line(xuLeftFringe, dark, 1.8), line(xuRightFringe, dark, 1.8), line(xuLeftCore, dark, 6), line(xuRightCore, dark, 6),
     blob(xuLeftBlob, dark), blob(xuRightBlob, dark)]
        .concat(xuFlats.map(s => line(s, '#22709f', 1.6)))
        .concat([line(xuLeftMid, '#22709f', 1.6), line(xuRightMid, '#22709f', 1.6),
                 line(xuLeftMid2, '#2b7ea9', 1.5), line(xuRightMid2, '#2b7ea9', 1.5)])
        .concat(xuLoops.map(s => line(s, light, 1.4))),
    -200, 200, xTicks, -60, 60, uTicksB, { top: 18, right: 35 }, 70, 79);

boxChart('chartC', 560, [
    boxAxis([[187,88],[187,690]], 100, -100, zTicksC, [16,8], [-30,-14], 'right'),
    boxAxis([[187,690],[738,970]], 100, -100, yTicksC, [14,-10], [-17,47], 'right'),
    boxAxis([[738,970],[1455,760]], -200, 200, xTicks3d, [-8,-14], [48,57], 'center')
], [blob(cHole, '#ffffff'), line(cLeftTexture, mid, 1.2), line(cRightTexture, '#24729f', 1),
    blob(cLeftBlob, dark), blob(cRightBlob, dark), blob(cWedgeBlob, dark),
    line(cLeftMid, '#5aaccb', 1.2), line(cRightMid, '#5aaccb', 1.2), blob(cLeftHaze, haze), blob(cRightHaze, haze)]
    .concat(cOuter.map(s => line(s, light, 1.5))));

boxChart('chartD', 559, [
    boxAxis([[193,78],[193,692]], 150, -150, uTicksD, [18,9], [-33,-15], 'right'),
    boxAxis([[193,692],[738,972]], 56, -56, wTicksD, [14,-10], [-48,52], 'center'),
    boxAxis([[738,972],[1460,755]], -200, 200, xTicks3d, [-8,-14], [50,52], 'center')
], [line(dCore, '#2a6ea3', 1.8, 0.25), line(dWiggle, dBlue, 1.2, 0.3), line(dWalk, dBlue, 1.2, 0.25), line(dScribble, dBlue, 1.1, 0.25)]
    .concat(dEdges.map(s => line(s, dBlue, 1.1, 0.25)))
    .concat([blob(dBlobInner, '#3073a8'), blob(dBlobOuter, 'rgba(58,120,170,0.6)')]));
</script>
</body>
</html>
